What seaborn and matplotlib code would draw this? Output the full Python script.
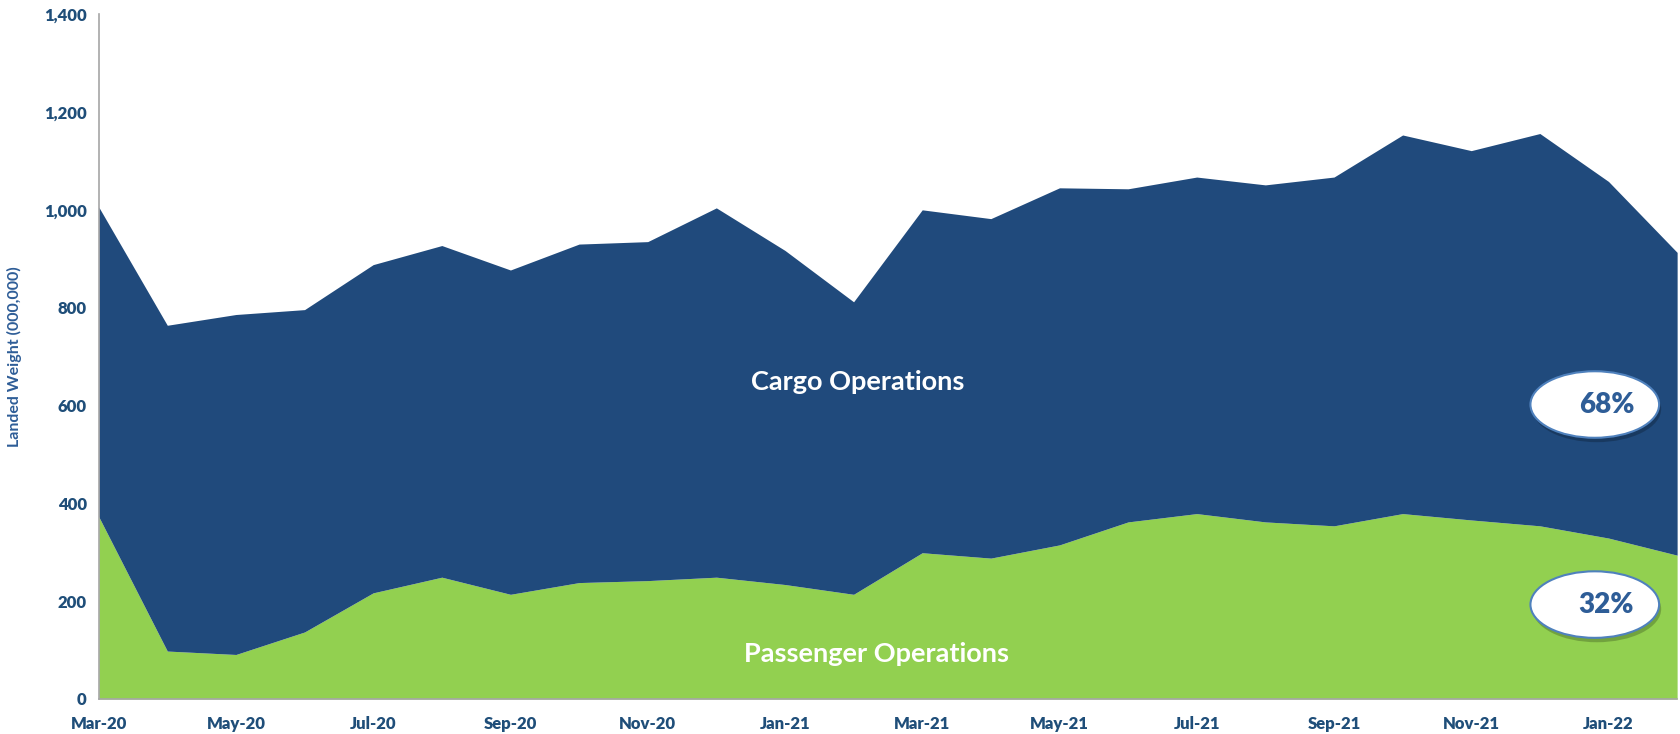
import matplotlib
matplotlib.use("Agg")
import matplotlib.pyplot as plt
from matplotlib.patches import Ellipse
import seaborn as sns
import pandas as pd

# Data (landed weight, 000,000)
months = ["Mar-20", "Apr-20", "May-20", "Jun-20", "Jul-20", "Aug-20", "Sep-20", "Oct-20",
          "Nov-20", "Dec-20", "Jan-21", "Feb-21", "Mar-21", "Apr-21", "May-21", "Jun-21",
          "Jul-21", "Aug-21", "Sep-21", "Oct-21", "Nov-21", "Dec-21", "Jan-22", "Feb-22"]
passenger = [373, 98, 91, 137, 217, 249, 214, 238, 242, 249, 234, 214,
             299, 288, 315, 362, 379, 362, 354, 379, 366, 354, 329, 294]
total = [1006, 764, 786, 796, 888, 927, 877, 930, 935, 1004, 917, 812,
         1000, 982, 1045, 1043, 1067, 1051, 1067, 1153, 1121, 1156, 1058, 913]
cargo = [t - p for t, p in zip(total, passenger)]
shares = ["68%", "32%"]

# Colours
BLUE = "#204a7c"
GREEN = "#92d050"
TEXT = "#1f4e79"

df = pd.DataFrame({"month": months, "Passenger": passenger, "Cargo": cargo})
df["idx"] = range(len(df))

sns.set_theme(style="white")
plt.rcParams["font.family"] = ["Lato", "DejaVu Sans"]

fig = plt.figure(figsize=(16.81, 7.34), dpi=100)
ax = fig.add_axes([0.0587, 0.0477, 0.939, 0.933])

ax.stackplot(df["idx"], df["Passenger"], df["Cargo"], colors=[GREEN, BLUE], linewidth=0)

ax.set_xlim(0, len(df) - 1)
ax.set_ylim(0, 1400)
ax.set_yticks(range(0, 1401, 200))
ax.set_yticklabels([f"{v:,}" for v in range(0, 1401, 200)])
ax.set_xticks(df["idx"][::2])
ax.set_xticklabels(df["month"][::2])

for s in ["top", "right"]:
    ax.spines[s].set_visible(False)
for s in ["left", "bottom"]:
    ax.spines[s].set_color("#a6a6a6")
    ax.spines[s].set_linewidth(1.2)
ax.tick_params(axis="both", which="both", direction="out", length=5, width=1,
               color="#a6a6a6", labelcolor=TEXT, labelsize=12)
ax.tick_params(axis="x", pad=7)
for lab in ax.get_xticklabels() + ax.get_yticklabels():
    lab.set_fontweight("heavy")

ax.set_ylabel("Landed Weight (000,000)", color="#2e5d97", fontsize=11.5,
              fontweight="bold", labelpad=16)

# Area labels
ax.text(11.06, 648, "Cargo Operations", color="white", fontsize=19.5,
        fontweight="bold", ha="center", va="center")
ax.text(11.34, 92, "Passenger Operations", color="white", fontsize=19.5,
        fontweight="bold", ha="center", va="center")

# Share bubbles
for y, txt in zip([602, 193], shares):
    sh = Ellipse((21.83, y - 9), 1.875, 136, facecolor="#000000", alpha=0.22,
                 edgecolor="none", zorder=3)
    ax.add_patch(sh)
    el = Ellipse((21.8, y), 1.875, 136, facecolor="white", edgecolor="#4f81bd",
                 linewidth=1.5, zorder=4)
    ax.add_patch(el)
    ax.text(21.97, y, txt, color="#2e5d97", fontsize=20, fontweight="heavy",
            ha="center", va="center", zorder=5)

fig.savefig("out.png", dpi=100)
